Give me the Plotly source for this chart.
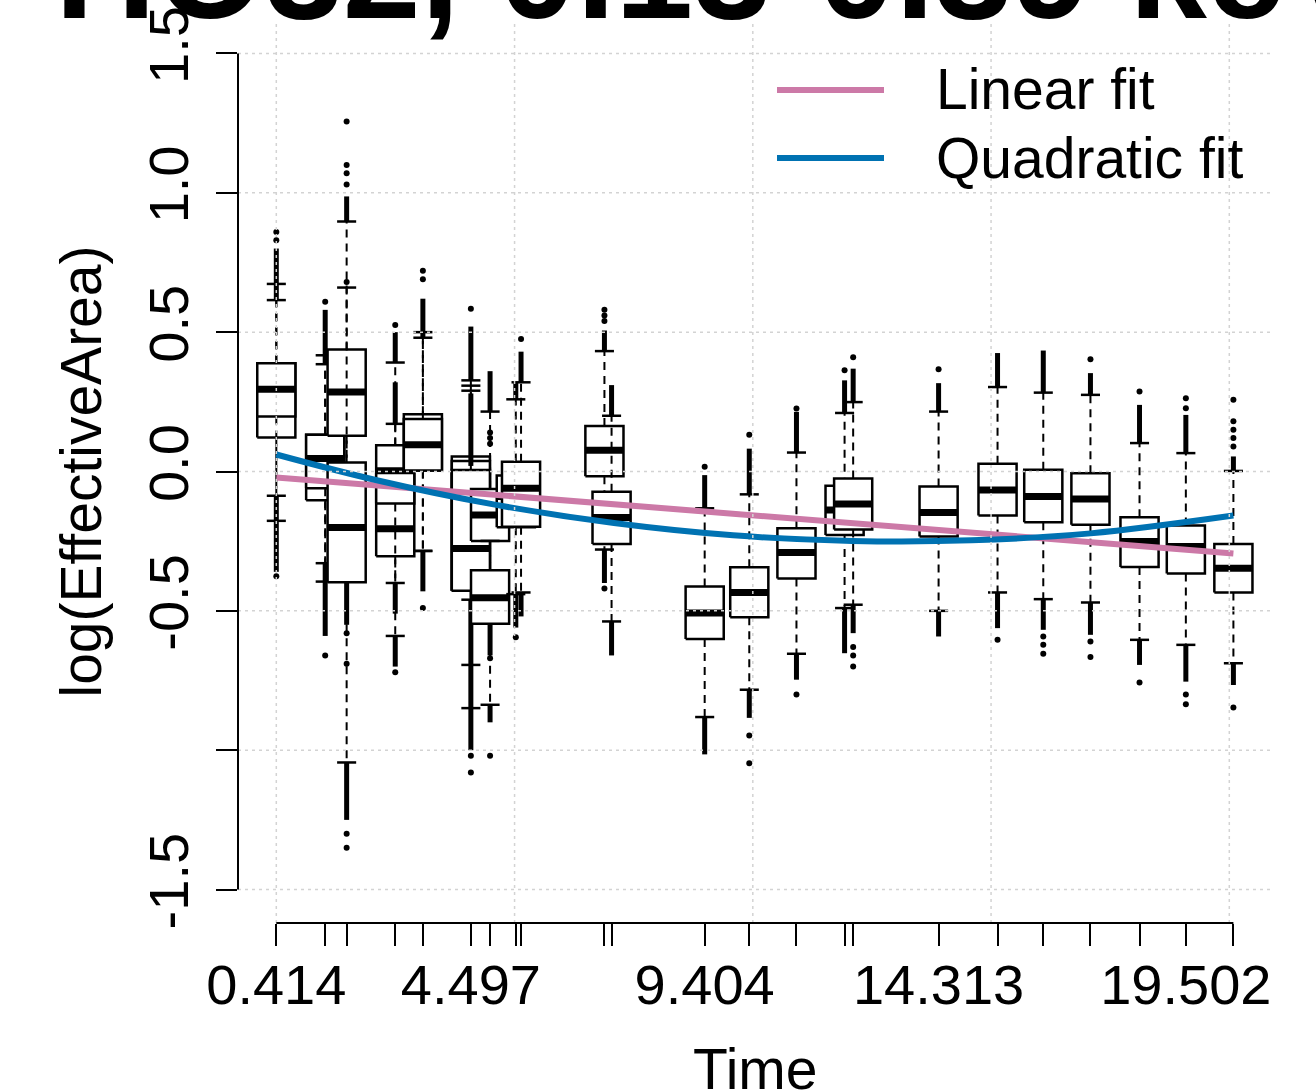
import plotly.graph_objects as go

# ---------------- data ----------------
box_time = [0.414, 0.414, 1.44, 1.44, 1.89, 1.89, 2.91, 2.91, 3.49, 3.49,
            4.497, 4.497, 4.497, 4.90, 4.90, 5.44, 5.55, 7.30, 7.45, 9.404,
            10.34, 11.33, 12.34, 12.52, 14.313, 15.55, 16.51, 17.50, 18.53,
            19.502, 20.50]
box_q1 = [0.122, 0.197, -0.103, -0.06, 0.128, -0.397, -0.304, -0.115, 0.004, 0.004,
          -0.428, -0.428, -0.428, -0.249, -0.546, -0.20, -0.198, -0.017, -0.26, -0.601,
          -0.523, -0.384, -0.228, -0.208, -0.233, -0.158, -0.182, -0.191, -0.343,
          -0.366, -0.434]
box_med = [0.295, 0.295, 0.047, 0.047, 0.285, -0.201, -0.205, 0.003, 0.096, 0.096,
           -0.276, -0.276, -0.276, -0.156, -0.453, -0.09, -0.06, 0.076, -0.165, -0.508,
           -0.434, -0.291, -0.138, -0.117, -0.147, -0.066, -0.09, -0.099, -0.251,
           -0.269, -0.347]
box_q3 = [0.388, 0.388, 0.132, 0.132, 0.438, 0.032, -0.01, 0.094, 0.205, 0.188,
          0.054, 0.038, 0.005, -0.063, -0.354, -0.014, 0.035, 0.163, -0.073, -0.413,
          -0.344, -0.204, -0.051, -0.025, -0.054, 0.028, 0.006, -0.006, -0.164,
          -0.194, -0.26]
whisker_lo = [-0.177, -0.087, -0.395, -0.329, -0.33, -1.044, -0.59, -0.40, -0.285, -0.285,
              -0.849, -0.694, -0.46, -0.527, -0.837, -0.44, -0.434, -0.28, -0.538, -0.881,
              -0.783, -0.654, -0.49, -0.478, -0.50, -0.434, -0.458, -0.47, -0.604,
              -0.622, -0.688]
whisker_hi = [0.673, 0.615, 0.417, 0.385, 0.897, 0.66, 0.171, 0.391, 0.48, 0.50,
              0.327, 0.308, 0.29, 0.215, -0.249, 0.259, 0.32, 0.432, 0.20, -0.132,
              -0.082, 0.068, 0.21, 0.249, 0.215, 0.303, 0.283, 0.275, 0.102,
              0.066, 0.002]
# dense runs of upper / lower outliers (from, to); None = no run
up_run_from = [0.673, 0.615, 0.417, 0.385, 0.897, None, 0.171, 0.391, 0.48, None,
               0.327, None, 0.02, 0.215, None, 0.259, 0.32, 0.432, 0.20, -0.132,
               -0.082, 0.068, 0.21, 0.249, 0.215, 0.303, 0.283, 0.275, 0.102,
               0.066, 0.002]
up_run_to = [0.80, 0.673, 0.58, 0.417, 0.987, None, 0.32, 0.50, 0.62, None,
             0.52, None, 0.28, 0.36, None, 0.32, 0.43, 0.506, 0.31, -0.013,
             0.082, 0.214, 0.327, 0.369, 0.317, 0.425, 0.434, 0.353, 0.239,
             0.203, 0.054]
lo_run_from = [-0.177, -0.087, -0.395, -0.329, -0.33, -1.044, -0.59, -0.40, -0.285, None,
               -0.849, -0.694, -0.46, -0.527, -0.837, -0.44, -0.434, -0.28, -0.538, -0.881,
               -0.783, -0.654, -0.49, -0.478, -0.50, -0.434, -0.458, -0.47, -0.604,
               -0.622, -0.688]
lo_run_to = [-0.36, -0.177, -0.59, -0.395, -0.55, -1.25, -0.70, -0.51, -0.43, None,
             -1.0, -0.849, -0.694, -0.66, -0.90, -0.56, -0.52, -0.40, -0.66, -1.015,
             -0.884, -0.747, -0.652, -0.58, -0.592, -0.562, -0.568, -0.586, -0.694,
             -0.754, -0.766]
up_dots = [[0.83, 0.859], [], [0.609], [], [1.03, 1.07, 1.10, 1.256], [0.68], [], [0.526],
           [0.69, 0.72], [], [0.584], [], [], [], [0.10, 0.12, 0.14], [], [0.475],
           [0.54, 0.56, 0.58], [], [0.017], [0.132], [0.226], [0.363], [0.41], [0.367],
           [], [], [0.403], [0.287], [0.227, 0.263], [0.09, 0.12, 0.15, 0.18, 0.257]]
lo_dots = [[-0.376], [], [-0.66], [], [-0.58, -0.69], [-1.30, -1.35], [-0.72], [],
           [-0.49], [], [-1.02, -1.08], [], [], [-0.67], [-1.02], [-0.595], [], [-0.42],
           [], [], [-0.947, -1.047], [-0.80], [], [-0.63, -0.66, -0.70], [], [-0.604],
           [-0.592, -0.622, -0.654], [-0.61, -0.666], [-0.757], [-0.80, -0.835], [-0.847]]

# fitted curves
linear_t = [0.414, 20.50]
linear_y = [-0.0215, -0.294]
quad_t = [0.414, 2.5, 5.0, 7.5, 10.0, 12.5, 15.0, 17.5, 20.50]
quad_y = [0.061, -0.0305, -0.119, -0.185, -0.229, -0.249, -0.247, -0.222, -0.158]

tick_times = [0.414, 1.44, 1.89, 2.91, 3.49, 4.497, 4.90, 5.44, 5.55, 7.30, 7.45, 9.404,
              10.34, 11.33, 12.34, 12.52, 14.313, 15.55, 16.51, 17.50, 18.53, 19.502, 20.50]
tick_text = ["0.414", "", "", "", "", "4.497", "", "", "", "", "", "9.404",
             "", "", "", "", "14.313", "", "", "", "", "19.502", ""]
y_ticks = [-1.5, -1.0, -0.5, 0.0, 0.5, 1.0, 1.5]
y_tick_text = ["-1.5", "", "-0.5", "0.0", "0.5", "1.0", "1.5"]
grid_x = [0.414, 5.414, 10.414, 15.414, 20.414]
title_text = "HO32, 0.13-0.39 keV"
legend_names = ["Linear fit", "Quadratic fit"]
PINK = "#CC79A7"
BLUE = "#0072B2"
FONT = "Liberation Sans"

HALF_W = 0.4
STAPLE_W = 0.2

fig = go.Figure()
for i, t in enumerate(box_time):
    q1, md, q3 = box_q1[i], box_med[i], box_q3[i]
    wl, wh = whisker_lo[i], whisker_hi[i]
    # whiskers (dashed)
    fig.add_trace(go.Scatter(x=[t, t, None, t, t], y=[q3, wh, None, q1, wl], mode="lines",
                             line=dict(color="black", width=2, dash="8px,6px"),
                             hoverinfo="skip"))
    # staples
    fig.add_trace(go.Scatter(x=[t - STAPLE_W, t + STAPLE_W, None, t - STAPLE_W, t + STAPLE_W],
                             y=[wh, wh, None, wl, wl], mode="lines",
                             line=dict(color="black", width=2.5), hoverinfo="skip"))
    # dense outlier columns
    rx, ry = [], []
    if up_run_from[i] is not None:
        rx += [t, t, None]
        ry += [up_run_from[i], up_run_to[i], None]
    if lo_run_from[i] is not None:
        rx += [t, t, None]
        ry += [lo_run_from[i], lo_run_to[i], None]
    if rx:
        fig.add_trace(go.Scatter(x=rx, y=ry, mode="lines", line=dict(color="black", width=5),
                                 hoverinfo="skip"))
    dots = up_dots[i] + lo_dots[i]
    if dots:
        fig.add_trace(go.Scatter(x=[t] * len(dots), y=dots, mode="markers",
                                 marker=dict(color="black", size=6), hoverinfo="skip"))
    # box
    fig.add_trace(go.Scatter(x=[t - HALF_W, t + HALF_W, t + HALF_W, t - HALF_W, t - HALF_W],
                             y=[q1, q1, q3, q3, q1], mode="lines", fill="toself",
                             fillcolor="white", line=dict(color="black", width=2.5),
                             hoverinfo="skip"))
    # median
    fig.add_trace(go.Scatter(x=[t - HALF_W, t + HALF_W], y=[md, md], mode="lines",
                             line=dict(color="black", width=7), hoverinfo="skip"))

fig.add_trace(go.Scatter(x=linear_t, y=linear_y, mode="lines", name=legend_names[0],
                         line=dict(color=PINK, width=6)))
fig.add_trace(go.Scatter(x=quad_t, y=quad_y, mode="lines", name=legend_names[1],
                         line=dict(color=BLUE, width=6, shape="spline")))

shapes = []
grid_style = dict(color="#D3D3D3", width=1.5, dash="3px,4px")
for gy in y_ticks:
    shapes.append(dict(type="line", xref="paper", yref="y", x0=0, x1=1, y0=gy, y1=gy,
                       line=grid_style, layer="above"))
for gx in grid_x:
    shapes.append(dict(type="line", xref="x", yref="paper", x0=gx, x1=gx, y0=0, y1=1,
                       line=grid_style, layer="above"))
# axis lines (R style: only between first and last tick)
shapes.append(dict(type="line", xref="x", yref="paper", x0=tick_times[0], x1=tick_times[-1],
                   y0=0, y1=0, line=dict(color="black", width=2)))
shapes.append(dict(type="line", xref="paper", yref="y", x0=0, x1=0, y0=y_ticks[0],
                   y1=y_ticks[-1], line=dict(color="black", width=2)))
# legend keys
for k, (col, py) in enumerate([(PINK, 90), (BLUE, 158)]):
    yp = (923 - py) / 903
    shapes.append(dict(type="line", xref="paper", yref="paper",
                       x0=(777 - 238) / 1034, x1=(884 - 238) / 1034, y0=yp, y1=yp,
                       line=dict(color=col, width=6)))

annotations = [
    dict(text=title_text, xref="paper", yref="paper", x=(53 - 238) / 1034, y=(923 + 30) / 903,
         xanchor="left", yanchor="middle", showarrow=False,
         font=dict(family=FONT, size=140, color="black", weight="bold")),
    dict(text="Time", xref="paper", yref="paper", x=0.5, y=(923 - 1069) / 903,
         xanchor="center", yanchor="middle", showarrow=False,
         font=dict(family=FONT, size=57, color="black")),
    dict(text="log(EffectiveArea)", xref="paper", yref="paper", x=(80 - 238) / 1034, y=0.5,
         xanchor="center", yanchor="middle", textangle=-90, showarrow=False,
         font=dict(family=FONT, size=57, color="black")),
]
for name, py in zip(legend_names, [89, 158]):
    annotations.append(dict(text=name, xref="paper", yref="paper", x=(934 - 238) / 1034,
                            y=(923 - py) / 903, xanchor="left", yanchor="middle",
                            showarrow=False, font=dict(family=FONT, size=57, color="black")))

fig.update_layout(
    width=1316, height=1090,
    margin=dict(l=238, r=44, t=20, b=167, pad=0),
    paper_bgcolor="white", plot_bgcolor="white",
    showlegend=False,
    shapes=shapes, annotations=annotations,
    xaxis=dict(range=[-0.39, 21.31], tickmode="array", tickvals=tick_times, ticktext=tick_text,
               ticks="outside", ticklen=22, tickwidth=2, tickcolor="black",
               showgrid=False, zeroline=False, showline=False, automargin=False,
               ticklabelstandoff=-9,
               tickfont=dict(family=FONT, size=56, color="black")),
    yaxis=dict(range=[-1.62, 1.62], tickmode="array", tickvals=y_ticks, ticktext=y_tick_text,
               tickangle=-90, ticks="outside", ticklen=21, tickwidth=2, tickcolor="black",
               showgrid=False, zeroline=False, showline=False, automargin=False,
               ticklabelstandoff=6,
               tickfont=dict(family=FONT, size=56, color="black")),
)

fig.write_html("out.html")
